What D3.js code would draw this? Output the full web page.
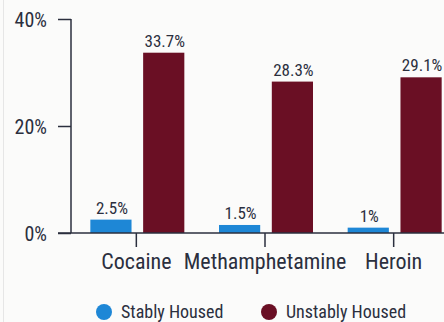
<!DOCTYPE html>
<html><head><meta charset="utf-8">
<script src="https://cdn.jsdelivr.net/npm/d3@7"></script>
<style>
html,body{margin:0;padding:0;background:#fbfbfa;}
svg{display:block;}
text{font-family:"Roboto Condensed","Liberation Sans Narrow","DejaVu Sans Condensed",Roboto,sans-serif;fill:#2b2f3e;}
</style></head>
<body>
<svg id="c" width="444" height="322"></svg>
<script>
const categories = ["Cocaine","Methamphetamine","Heroin"];
const seriesNames = ["Stably Housed","Unstably Housed"];
const stably = [2.5,1.5,1];
const unstably = [33.7,28.3,29.1];
const yTicks = [0,20,40];
const colors = ["#1e87d6","#6a0f24"];

const svg = d3.select("#c");
svg.append("rect").attr("x",0).attr("y",0).attr("width",444).attr("height",322).attr("fill","#fbfbfa");
svg.append("line").attr("x1",3.5).attr("x2",3.5).attr("y1",0).attr("y2",322).attr("stroke","#e6e6e6");

const x = d3.scaleBand().domain(categories).range([72,458]).paddingInner(0).paddingOuter(0);
const y = d3.scaleLinear().domain([0,40]).range([233,19]);
const x1 = d3.scaleBand().domain(seriesNames).range([-46,48]).paddingInner(0.22);

const data = categories.map((c,i)=>({cat:c, vals:[stably[i],unstably[i]]}));

// y axis
const yAxis = d3.axisLeft(y).tickValues(yTicks).tickFormat(d=>d+"%").tickSize(13).tickPadding(6);
const ga = svg.append("g").attr("transform","translate(71,0)").call(yAxis);
ga.select(".domain").remove();
ga.selectAll("line").attr("stroke","#2b2f3e").attr("stroke-width",1.5);
ga.selectAll("text").style("font-size","20px").attr("dy","0.35em").attr("x",-24).attr("fill","#2b2f3e");
svg.append("line").attr("x1",71).attr("x2",71).attr("y1",y(40)).attr("y2",y(0)).attr("stroke","#2b2f3e").attr("stroke-width",1.5);

// bars
const g = svg.append("g");
data.forEach(d=>{
  const cx = x(d.cat)+x.bandwidth()/2;
  d.vals.forEach((v,j)=>{
    g.append("rect").attr("x",cx+x1(seriesNames[j])).attr("y",y(v))
      .attr("width",x1.bandwidth()).attr("height",y(0)-y(v)).attr("fill",colors[j]);
    g.append("text").attr("x",cx+x1(seriesNames[j])+x1.bandwidth()/2+1).attr("y",y(v)-6)
      .attr("text-anchor","middle").style("font-size","17px").text(v+"%");
  });
});

// x axis
const xAxis = d3.axisBottom(x).tickSize(14).tickPadding(6);
const gx = svg.append("g").attr("transform","translate(0,233)").call(xAxis);
gx.select(".domain").remove();
gx.selectAll("line").attr("stroke","#2b2f3e").attr("stroke-width",1.5);
gx.selectAll("text").style("font-size","22px").attr("fill","#2b2f3e");
svg.append("line").attr("x1",58).attr("x2",444).attr("y1",233).attr("y2",233).attr("stroke","#2b2f3e").attr("stroke-width",1.5);

// legend
const legX = [104,269];
seriesNames.forEach((s,i)=>{
  svg.append("circle").attr("cx",legX[i]).attr("cy",312).attr("r",8).attr("fill",colors[i]);
  svg.append("text").attr("x",legX[i]+17).attr("y",312).attr("dy","0.36em").style("font-size","18px").text(s);
});
</script>
</body></html>
